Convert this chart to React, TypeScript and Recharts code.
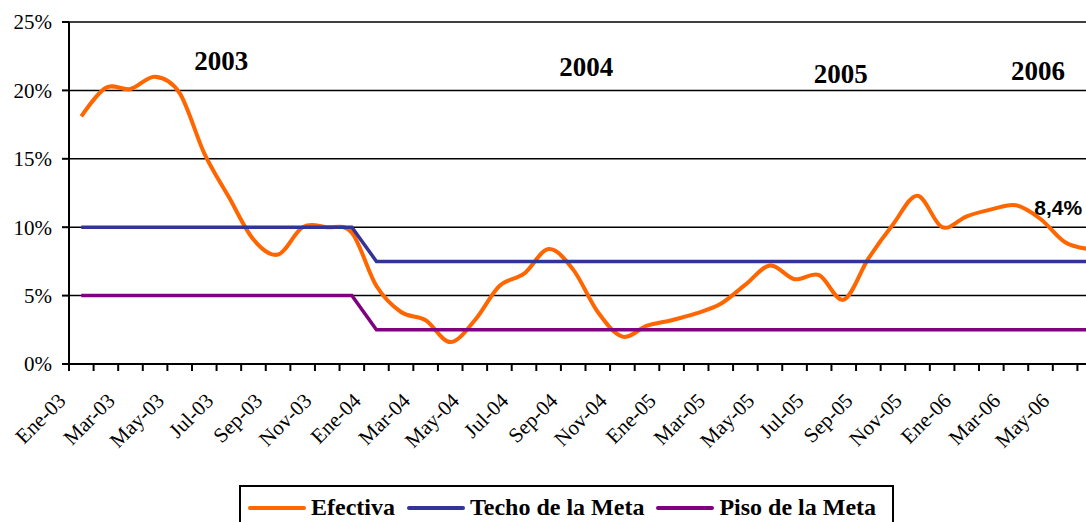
import React from 'react';
import { LineChart, Line, XAxis, YAxis, CartesianGrid, Legend, ReferenceDot } from 'recharts';

const months = [
  'Ene-03','Feb-03','Mar-03','Abr-03','May-03','Jun-03','Jul-03','Ago-03','Sep-03','Oct-03','Nov-03','Dic-03',
  'Ene-04','Feb-04','Mar-04','Abr-04','May-04','Jun-04','Jul-04','Ago-04','Sep-04','Oct-04','Nov-04','Dic-04',
  'Ene-05','Feb-05','Mar-05','Abr-05','May-05','Jun-05','Jul-05','Ago-05','Sep-05','Oct-05','Nov-05','Dic-05',
  'Ene-06','Feb-06','Mar-06','Abr-06','May-06','Jun-06',
];

const efectiva = [
  18.1, 20.2, 20.1, 21.0, 19.8, 15.4, 12.2, 9.1, 8.0, 10.0, 10.0, 9.6,
  5.7, 3.8, 3.2, 1.6, 3.2, 5.7, 6.6, 8.4, 6.9, 3.8, 2.0, 2.8,
  3.2, 3.7, 4.4, 5.8, 7.2, 6.2, 6.5, 4.7, 7.7, 10.2, 12.3, 10.0,
  10.8, 11.3, 11.6, 10.6, 8.9, 8.4,
];

const techo = [
  10, 10, 10, 10, 10, 10, 10, 10, 10, 10, 10, 10,
  7.5, 7.5, 7.5, 7.5, 7.5, 7.5, 7.5, 7.5, 7.5, 7.5, 7.5, 7.5,
  7.5, 7.5, 7.5, 7.5, 7.5, 7.5, 7.5, 7.5, 7.5, 7.5, 7.5, 7.5,
  7.5, 7.5, 7.5, 7.5, 7.5, 7.5,
];

const piso = [
  5, 5, 5, 5, 5, 5, 5, 5, 5, 5, 5, 5,
  2.5, 2.5, 2.5, 2.5, 2.5, 2.5, 2.5, 2.5, 2.5, 2.5, 2.5, 2.5,
  2.5, 2.5, 2.5, 2.5, 2.5, 2.5, 2.5, 2.5, 2.5, 2.5, 2.5, 2.5,
  2.5, 2.5, 2.5, 2.5, 2.5, 2.5,
];

const yTicks = [0, 5, 10, 15, 20, 25];

const yearLabels = [
  { text: '2003', pos: 5.69, value: 22.17 },
  { text: '2004', pos: 20.53, value: 21.73 },
  { text: '2005', pos: 30.88, value: 21.27 },
  { text: '2006', pos: 38.9, value: 21.44 },
];

const lastLabel = { text: '8,4%', pos: 39.72, value: 11.46 };

const legendItems = [
  { label: 'Efectiva', color: '#FF6600' },
  { label: 'Techo de la Meta', color: '#333399' },
  { label: 'Piso de la Meta', color: '#800080' },
];

const data = months.map((m, i) => ({ m, efectiva: efectiva[i], techo: techo[i], piso: piso[i] }));

const SERIF = '"Liberation Serif", "Times New Roman", serif';
const SANS = '"Liberation Sans", Arial, sans-serif';

const PLOT_W = 1033;
const HALF_BAND = PLOT_W / months.length / 2;

// Excel-like smoothing (Catmull-Rom / cardinal with tension 0)
const excelSmooth: any = (context: any) => {
  const k = 1 / 6;
  let x0 = NaN, x1 = NaN, x2 = NaN, y0 = NaN, y1 = NaN, y2 = NaN, pt = 0;
  let ln: any = undefined;
  const seg = (x: number, y: number) =>
    context.bezierCurveTo(x1 + k * (x2 - x0), y1 + k * (y2 - y0), x2 + k * (x1 - x), y2 + k * (y1 - y), x2, y2);
  return {
    areaStart() { ln = 0; },
    areaEnd() { ln = NaN; },
    lineStart() { x0 = x1 = x2 = y0 = y1 = y2 = NaN; pt = 0; },
    lineEnd() {
      switch (pt) {
        case 2: context.lineTo(x2, y2); break;
        case 3: seg(x1, y1); break;
      }
      if (ln || (ln !== 0 && pt === 1)) context.closePath();
      ln = 1 - ln;
    },
    point(x: number, y: number) {
      x = +x; y = +y;
      switch (pt) {
        case 0: pt = 1; if (ln) context.lineTo(x, y); else context.moveTo(x, y); break;
        case 1: pt = 2; x1 = x; y1 = y; break;
        case 2: pt = 3; seg(x, y); break;
        default: seg(x, y); break;
      }
      x0 = x1; x1 = x2; x2 = x;
      y0 = y1; y1 = y2; y2 = y;
    },
  };
};

const XTick = (props: any) => {
  const { x, y, payload, index } = props;
  const lx = x - 14.3;
  const ly = y + 38;
  return (
    <g>
      <line x1={x - HALF_BAND} y1={y} x2={x - HALF_BAND} y2={y + 7} stroke="#000" strokeWidth={2} />
      {index === months.length - 1 && (
        <line x1={x + HALF_BAND} y1={y} x2={x + HALF_BAND} y2={y + 7} stroke="#000" strokeWidth={2} />
      )}
      {index % 2 === 0 && (
        <text
          x={lx}
          y={ly}
          transform={`rotate(-45, ${lx}, ${ly})`}
          textAnchor="end"
          fontSize={21}
          fontFamily={SERIF}
          fill="#000"
        >
          {payload.value}
        </text>
      )}
    </g>
  );
};

const LegendBox = () => (
  <div
    style={{
      boxSizing: 'border-box',
      width: 655,
      height: 45,
      border: '2px solid #000',
      background: '#fff',
      display: 'flex',
      alignItems: 'center',
      paddingLeft: 7,
      fontFamily: SERIF,
      fontWeight: 'bold',
      fontSize: 24,
      color: '#000',
      whiteSpace: 'nowrap',
    }}
  >
    {legendItems.map((it, i) => (
      <React.Fragment key={it.label}>
        <span
          style={{
            display: 'inline-block',
            width: 58,
            height: 4,
            background: it.color,
            borderRadius: 2,
            marginLeft: i ? 12 : 0,
            marginRight: 5,
          }}
        />
        <span>{it.label}</span>
      </React.Fragment>
    ))}
  </div>
);

export default function App() {
  return (
    <div style={{ position: 'absolute', left: 0, top: 0, width: 1086, height: 522, overflow: 'hidden', background: '#fff' }}>
      <LineChart width={69 + PLOT_W} height={522} data={data} margin={{ top: 22, right: 0, bottom: 0, left: 0 }}>
        <CartesianGrid horizontal vertical={false} stroke="#000" strokeWidth={1.5} />
        <XAxis
          dataKey="m"
          interval={0}
          padding={{ left: HALF_BAND, right: HALF_BAND }}
          tickLine={false}
          tickSize={0}
          tickMargin={0}
          height={158}
          axisLine={{ stroke: '#000', strokeWidth: 2 }}
          tick={<XTick />}
        />
        <XAxis
          xAxisId="n"
          type="number"
          domain={[0, months.length - 1]}
          padding={{ left: HALF_BAND, right: HALF_BAND }}
          hide
          allowDataOverflow
        />
        <YAxis
          width={69}
          domain={[0, 25]}
          ticks={yTicks}
          interval={0}
          tickFormatter={(v: number) => `${v}%`}
          tickSize={7}
          tickMargin={10}
          axisLine={{ stroke: '#000', strokeWidth: 2 }}
          tickLine={{ stroke: '#000', strokeWidth: 2 }}
          tick={{ fontSize: 21, fontFamily: SERIF, fill: '#000' }}
        />
        <Line dataKey="efectiva" name="Efectiva" type={excelSmooth} stroke="#FF6600" strokeWidth={4} dot={false} isAnimationActive={false} />
        <Line dataKey="techo" name="Techo de la Meta" type="linear" stroke="#333399" strokeWidth={3.5} dot={false} isAnimationActive={false} />
        <Line dataKey="piso" name="Piso de la Meta" type="linear" stroke="#800080" strokeWidth={3.5} dot={false} isAnimationActive={false} />
        {yearLabels.map((yl) => (
          <ReferenceDot
            key={yl.text}
            xAxisId="n"
            x={yl.pos}
            y={yl.value}
            r={0}
            fill="none"
            stroke="none"
            ifOverflow="visible"
            label={{ value: yl.text, position: 'center', fontSize: 27, fontWeight: 'bold', fontFamily: SERIF, fill: '#000' }}
          />
        ))}
        <ReferenceDot
          xAxisId="n"
          x={lastLabel.pos}
          y={lastLabel.value}
          r={0}
          fill="none"
          stroke="none"
          ifOverflow="visible"
          label={{ value: lastLabel.text, position: 'center', fontSize: 21, fontWeight: 'bold', fontFamily: SANS, fill: '#000' }}
        />
        <Legend
          layout="horizontal"
          verticalAlign="middle"
          align="center"
          content={<LegendBox />}
          wrapperStyle={{ left: 239, top: 485, width: 655, height: 45 }}
        />
      </LineChart>
    </div>
  );
}
